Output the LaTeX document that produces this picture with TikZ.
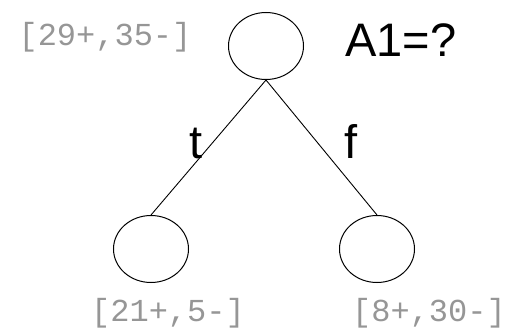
\documentclass[tikz,border=0pt]{standalone}
\usepackage{fontspec}
\setmainfont{Liberation Sans}
\newfontfamily\monofnt{Liberation Mono}
\usetikzlibrary{shapes.geometric}
\definecolor{countgray}{RGB}{150,150,150}
\begin{document}
\begin{tikzpicture}[x=1pt,y=-1pt,
  treenode/.style={draw,ellipse,line width=1pt,minimum width=75pt,minimum height=67pt,inner sep=0pt},
  count/.style={text=countgray,font=\monofnt\fontsize{32}{32}\selectfont,inner sep=0pt},
  lbl/.style={font=\fontsize{47}{47}\selectfont,inner sep=0pt},
  edge/.style={line width=0.9pt}]
\useasboundingbox[fill=white] (0,0) rectangle (515,329);
\node[treenode] (root) at (266,46) {};
\node[treenode] (left) at (151,249) {};
\node[treenode] (right) at (377,249) {};
\draw[edge] (root.south) -- (left.north);
\draw[edge] (root.south) -- (right.north);
\node[count] (c0) at (105,37) {[29+,35-]};
\node[count] (c1) at (168,313) {[21+,5-]};
\node[count] (c2) at (429,313) {[8+,30-]};
\node[lbl] (q) at (401,40) {A1=?};
\node[lbl,anchor=base] (t) at (196,158) {t};
\node[lbl,anchor=base] (f) at (351,158) {f};
\end{tikzpicture}
\end{document}
